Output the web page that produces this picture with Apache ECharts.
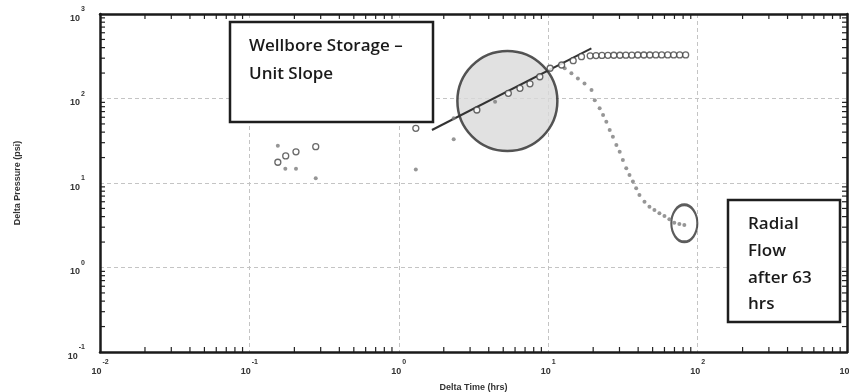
<!DOCTYPE html>
<html>
<head>
<meta charset="utf-8">
<script src="https://cdn.jsdelivr.net/npm/echarts@6/dist/echarts.min.js"></script>
<style>
html,body{margin:0;padding:0;background:#fff;}
#main{width:849px;height:392px;}
</style>
</head>
<body>
<div id="main"></div>
<script>
// pressure (open circles): delta time (hrs), delta pressure (psi)
var pressureTime = [0.155, 0.175, 0.205, 0.278, 1.30, 3.33, 5.41, 6.47, 7.55, 8.79, 10.3, 12.3, 14.7, 16.7,
    19.1, 20.9, 22.9, 25.1, 27.5, 30.2, 33.1, 36.3, 39.8, 43.7, 47.9, 52.5, 57.5, 63.1, 69.2, 75.9, 83.2];
var pressureVal = [17.6, 20.9, 23.4, 26.9, 44.4, 73.1, 115, 132, 149, 181, 228, 249, 280, 313,
    320, 322, 323, 324, 325, 325, 326, 326, 327, 327, 327, 328, 328, 328, 328, 328, 328];

// pressure derivative (small dots)
var derivTime = [0.155, 0.174, 0.205, 0.278, 1.30, 2.33, 2.33, 4.41, 12.9, 14.3, 15.8, 17.5, 19.5,
    20.5, 22.1, 23.3, 24.5, 25.8, 27.1, 28.6, 30.1, 31.6, 33.3, 35.0, 36.9, 38.8, 40.8,
    44.1, 47.6, 51.4, 55.5, 60.0, 64.7, 69.8, 75.5, 81.5];
var derivVal = [27.6, 14.7, 14.7, 11.4, 14.4, 32.9, 58.3, 91.6, 228, 199, 173, 151, 126,
    95.5, 76.6, 63.8, 53.2, 42.4, 35.3, 28.2, 23.4, 18.7, 14.9, 12.4, 10.4, 8.65, 7.21,
    6.01, 5.25, 4.79, 4.38, 4.06, 3.72, 3.39, 3.27, 3.18];

// unit slope line
var slopeTime = [1.667, 19.45];
var slopeVal = [42.4, 392.6];

// annotation marks (data coords)
var storageCircle = [5.33, 93.3];
var radialEllipse = [81.5, 3.33];

function zip(a, b) {
    var out = [];
    for (var i = 0; i < a.length; i++) out.push([a[i], b[i]]);
    return out;
}

function powLabel(v) {
    var e = Math.round(Math.log(v) / Math.LN10);
    return '{b|10}{e|' + e + '}';
}

var labelRich = {
    b: {fontSize: 9, fontWeight: 'bold', fontFamily: 'Liberation Sans', color: '#333', padding: [9, 0, 0, 0]},
    e: {fontSize: 7, fontWeight: 'bold', fontFamily: 'Liberation Sans', color: '#333', padding: [0, 0, 9, 1]}
};

var axisLineStyle = {color: '#1a1a1a', width: 2.5};
var gridLineStyle = {color: '#c4c4c4', type: [4, 3], width: 1};
var nameStyle = {fontSize: 9, fontWeight: 'bold', fontFamily: 'Liberation Sans', color: '#333'};

var chart = echarts.init(document.getElementById('main'), null, {renderer: 'canvas'});

var option = {
    backgroundColor: '#fff',
    animation: false,
    grid: {left: 100, right: 2, top: 14, bottom: 40, containLabel: false, outerBoundsMode: 'none'},
    xAxis: [{
        type: 'log', logBase: 10, min: 0.01, max: 1000, position: 'bottom',
        axisLine: {lineStyle: axisLineStyle},
        axisTick: {show: false},
        splitLine: {show: true, lineStyle: gridLineStyle},
        axisLabel: {formatter: powLabel, rich: labelRich, margin: 6},
        name: 'Delta Time (hrs)', nameLocation: 'middle', nameGap: 31, nameTextStyle: nameStyle
    }, {
        type: 'log', logBase: 10, min: 0.01, max: 1000, position: 'top',
        axisLine: {lineStyle: axisLineStyle},
        axisTick: {show: false}, axisLabel: {show: false}, splitLine: {show: false}
    }],
    yAxis: [{
        type: 'log', logBase: 10, min: 0.1, max: 1000, position: 'left',
        axisLine: {lineStyle: axisLineStyle},
        axisTick: {show: false},
        splitLine: {show: true, lineStyle: gridLineStyle},
        axisLabel: {formatter: powLabel, rich: labelRich, margin: 15},
        name: 'Delta Pressure (psi)', nameLocation: 'middle', nameGap: 78, nameTextStyle: nameStyle
    }, {
        type: 'log', logBase: 10, min: 0.1, max: 1000, position: 'right',
        axisLine: {lineStyle: axisLineStyle},
        axisTick: {show: false}, axisLabel: {show: false}, splitLine: {show: false}
    }],
    series: [
        {
            type: 'scatter', silent: true, z: 1,
            data: [storageCircle], symbol: 'circle', symbolSize: 100,
            itemStyle: {color: '#dadada', borderColor: '#2a2a2a', borderWidth: 2.5}
        },
        {
            type: 'scatter', silent: true, z: 1,
            data: [radialEllipse], symbol: 'circle', symbolSize: [26, 37],
            itemStyle: {color: 'rgba(0,0,0,0)', borderColor: '#333', borderWidth: 2.5}
        },
        {
            type: 'line', silent: true, z: 3,
            data: zip(slopeTime, slopeVal), symbol: 'none',
            lineStyle: {color: '#333', width: 2}
        },
        {
            type: 'scatter', z: 4,
            data: zip(derivTime, derivVal), symbol: 'circle', symbolSize: 4,
            itemStyle: {color: '#7c7c7c'}
        },
        {
            type: 'scatter', z: 5,
            data: zip(pressureTime, pressureVal), symbol: 'circle', symbolSize: 6,
            itemStyle: {color: '#fff', borderColor: '#444', borderWidth: 1.3}
        }
    ]
};

chart.setOption(option);

// minor ticks at 2..9 x 10^k on all four sides, placed through the axes
var tickEls = [];
var gTop = 14, gBottom = 392 - 40, gLeft = 100, gRight = 849 - 2;
for (var k = -2; k < 3; k++) {
    for (var m = 2; m <= 9; m++) {
        var px = chart.convertToPixel({xAxisIndex: 0}, m * Math.pow(10, k));
        tickEls.push({type: 'line', silent: true, shape: {x1: px, y1: gBottom, x2: px, y2: gBottom - 5}, style: {stroke: '#222', lineWidth: 1.2}});
        tickEls.push({type: 'line', silent: true, shape: {x1: px, y1: gTop, x2: px, y2: gTop + 5}, style: {stroke: '#222', lineWidth: 1.2}});
    }
}
for (var k2 = -1; k2 < 3; k2++) {
    for (var m2 = 2; m2 <= 9; m2++) {
        var py = chart.convertToPixel({yAxisIndex: 0}, m2 * Math.pow(10, k2));
        tickEls.push({type: 'line', silent: true, shape: {x1: gLeft, y1: py, x2: gLeft + 5, y2: py}, style: {stroke: '#222', lineWidth: 1.2}});
        tickEls.push({type: 'line', silent: true, shape: {x1: gRight, y1: py, x2: gRight - 5, y2: py}, style: {stroke: '#222', lineWidth: 1.2}});
    }
}

var boxFont = '600 17px "Open Sans"';
var notes = [
    {type: 'rect', z: 10, shape: {x: 230, y: 22, width: 203, height: 100}, style: {fill: '#fff', stroke: '#1e1e1e', lineWidth: 2.5}},
    {type: 'text', z: 11, style: {x: 249, y: 46, text: 'Wellbore Storage \u2013', font: boxFont, fill: '#1a1a1a', textVerticalAlign: 'middle'}},
    {type: 'text', z: 11, style: {x: 249, y: 74, text: 'Unit Slope', font: boxFont, fill: '#1a1a1a', textVerticalAlign: 'middle'}},
    {type: 'rect', z: 10, shape: {x: 728, y: 200, width: 112, height: 122}, style: {fill: '#fff', stroke: '#1e1e1e', lineWidth: 2.5}},
    {type: 'text', z: 11, style: {x: 748, y: 224, text: 'Radial', font: boxFont, fill: '#1a1a1a', textVerticalAlign: 'middle'}},
    {type: 'text', z: 11, style: {x: 748, y: 251, text: 'Flow', font: boxFont, fill: '#1a1a1a', textVerticalAlign: 'middle'}},
    {type: 'text', z: 11, style: {x: 748, y: 278, text: 'after 63', font: boxFont, fill: '#1a1a1a', textVerticalAlign: 'middle'}},
    {type: 'text', z: 11, style: {x: 748, y: 304, text: 'hrs', font: boxFont, fill: '#1a1a1a', textVerticalAlign: 'middle'}}
];

chart.setOption({graphic: {elements: tickEls.concat(notes)}});
</script>
</body>
</html>
